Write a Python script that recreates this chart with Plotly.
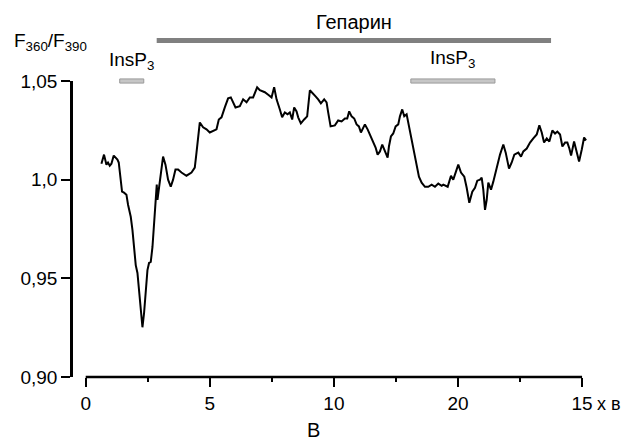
import plotly.graph_objects as go

# Fluorescence ratio trace, F360/F390, versus time (min)
time_min = [
    0.633, 0.738, 0.835, 0.899, 0.968, 1.036, 1.129, 1.198, 1.278, 1.331,
    1.411, 1.464, 1.544, 1.641, 1.706, 1.815, 1.883, 1.948, 2.016, 2.085,
    2.149, 2.218, 2.286, 2.351, 2.419, 2.488, 2.552, 2.621, 2.690, 2.754,
    2.823, 2.863, 2.891, 2.944, 3.012, 3.117, 3.214, 3.319, 3.427, 3.520,
    3.617, 3.722, 3.859, 4.060, 4.262, 4.395, 4.464, 4.504, 4.597, 4.730,
    4.867, 5.000, 5.133, 5.270, 5.363, 5.472, 5.605, 5.738, 5.847, 5.940,
    6.036, 6.210, 6.343, 6.480, 6.613, 6.746, 6.815, 6.907, 7.016, 7.218,
    7.379, 7.488, 7.593, 7.690, 7.823, 7.915, 8.024, 8.133, 8.226, 8.319,
    8.399, 8.496, 8.561, 8.669, 8.802, 8.923, 9.032, 9.125, 9.262, 9.367,
    9.476, 9.609, 9.706, 9.770, 9.867, 10.040, 10.173, 10.310, 10.444, 10.537,
    10.617, 10.714, 10.819, 10.915, 11.008, 11.089, 11.181, 11.250, 11.359, 11.452,
    11.585, 11.681, 11.762, 11.855, 11.948, 12.056, 12.165, 12.218, 12.298, 12.391,
    12.488, 12.593, 12.661, 12.754, 12.835, 12.931, 13.024, 13.133, 13.238, 13.335,
    13.427, 13.536, 13.669, 13.802, 13.940, 14.073, 14.206, 14.343, 14.407, 14.585,
    14.718, 14.810, 14.907, 15.012, 15.121, 15.254, 15.351, 15.456, 15.577, 15.685,
    15.778, 15.887, 15.955, 16.020, 16.089, 16.157, 16.222, 16.331, 16.423, 16.560,
    16.694, 16.827, 16.923, 17.056, 17.165, 17.270, 17.431, 17.540, 17.633, 17.770,
    17.903, 18.036, 18.173, 18.278, 18.375, 18.468, 18.577, 18.681, 18.802, 18.911,
    19.004, 19.113, 19.206, 19.315, 19.407, 19.488, 19.557, 19.678, 19.786, 19.879,
    19.988, 20.081, 20.161,
]
ratio = [
    1.0081, 1.0127, 1.0076, 1.0087, 1.0071, 1.0081, 1.0122, 1.0112, 1.0102, 1.0087,
    0.9985, 0.9939, 0.9934, 0.9924, 0.9873, 0.9812, 0.9746, 0.9644, 0.9567, 0.9527,
    0.9440, 0.9323, 0.9252, 0.9323, 0.9455, 0.9542, 0.9578, 0.9583, 0.9659, 0.9781,
    0.9924, 0.9975, 0.9898, 0.9949, 1.0015, 1.0117, 1.0076, 1.0000, 0.9964, 1.0000,
    1.0051, 1.0051, 1.0036, 1.0020, 1.0036, 1.0061, 1.0137, 1.0178, 1.0290, 1.0265,
    1.0255, 1.0239, 1.0249, 1.0255, 1.0305, 1.0316, 1.0366, 1.0412, 1.0417, 1.0387,
    1.0366, 1.0372, 1.0407, 1.0392, 1.0417, 1.0417, 1.0443, 1.0468, 1.0453, 1.0443,
    1.0428, 1.0417, 1.0468, 1.0407, 1.0356, 1.0316, 1.0341, 1.0331, 1.0341, 1.0305,
    1.0366, 1.0346, 1.0316, 1.0285, 1.0305, 1.0321, 1.0453, 1.0438, 1.0422, 1.0407,
    1.0387, 1.0407, 1.0392, 1.0341, 1.0270, 1.0275, 1.0300, 1.0295, 1.0310, 1.0310,
    1.0346, 1.0321, 1.0310, 1.0280, 1.0270, 1.0239, 1.0265, 1.0280, 1.0255, 1.0229,
    1.0193, 1.0163, 1.0127, 1.0143, 1.0178, 1.0143, 1.0112, 1.0168, 1.0219, 1.0234,
    1.0270, 1.0280, 1.0321, 1.0356, 1.0321, 1.0331, 1.0270, 1.0193, 1.0137, 1.0066,
    1.0015, 0.9985, 0.9964, 0.9964, 0.9975, 0.9964, 0.9980, 0.9969, 0.9975, 0.9964,
    1.0020, 1.0000, 1.0041, 1.0076, 1.0036, 1.0015, 0.9959, 0.9883, 0.9939, 0.9959,
    0.9995, 1.0000, 1.0010, 0.9949, 0.9847, 0.9898, 0.9985, 0.9949, 0.9990, 1.0066,
    1.0127, 1.0178, 1.0137, 1.0056, 1.0087, 1.0127, 1.0137, 1.0117, 1.0143, 1.0158,
    1.0188, 1.0209, 1.0229, 1.0275, 1.0239, 1.0188, 1.0209, 1.0193, 1.0249, 1.0234,
    1.0244, 1.0229, 1.0168, 1.0188, 1.0188, 1.0158, 1.0122, 1.0193, 1.0137, 1.0092,
    1.0153, 1.0214, 1.0199,
]

# Application periods (min)
heparin_period = [2.86, 18.75]
insp3_periods = [[1.37, 2.34], [13.10, 16.49]]

# Axis ticks
x_tick_vals = [0, 5, 10, 15, 20]
x_tick_text = ["0", "5", "10", "20", "15"]
x_minor_vals = [2.5, 7.5, 12.5, 17.5]
y_tick_vals = [0.90, 0.95, 1.00, 1.05]
y_tick_text = ["0,90", "0,95", "1,0", "1,05"]

FONT = "Liberation Sans, Arial, sans-serif"

fig = go.Figure()
fig.add_trace(go.Scatter(
    x=time_min, y=ratio, mode="lines",
    line=dict(color="black", width=2),
    hoverinfo="skip", showlegend=False,
))

shapes = []
# x-axis baseline from 0 to 20 min
shapes.append(dict(type="line", xref="x", yref="paper",
                   x0=x_tick_vals[0], x1=x_tick_vals[-1], y0=0, y1=0,
                   line=dict(color="black", width=2.5)))
# Heparin bar
shapes.append(dict(type="rect", xref="x", yref="paper",
                   x0=heparin_period[0], x1=heparin_period[1], y0=1.128, y1=1.145,
                   fillcolor="#808080", line=dict(width=0)))
# InsP3 bars
for a, b in insp3_periods:
    shapes.append(dict(type="rect", xref="x", yref="paper",
                       x0=a, x1=b, y0=0.993, y1=1.007,
                       fillcolor="#c6c6c6", line=dict(color="#9a9a9a", width=1)))

annotations = [
    dict(text="F<sub>360</sub>/F<sub>390</sub>", xref="paper", yref="paper",
         x=-0.118, y=1.132, xanchor="left", yanchor="middle", showarrow=False,
         font=dict(size=19, color="black", family=FONT)),
    dict(text="Гепарин", xref="x", yref="paper",
         x=sum(heparin_period) / 2, y=1.199, xanchor="center", yanchor="middle",
         showarrow=False, font=dict(size=20, color="black", family=FONT)),
    dict(text="х в", xref="paper", yref="paper",
         x=1.005, y=-0.09, xanchor="left", yanchor="middle", showarrow=False,
         font=dict(size=18, color="black", family=FONT)),
    dict(text="В", xref="paper", yref="paper",
         x=(313 - 73) / 519, y=-0.18, xanchor="center", yanchor="middle",
         showarrow=False, font=dict(size=20, color="black", family=FONT)),
]
for (a, b), ylab in zip(insp3_periods, [1.066, 1.076]):
    annotations.append(dict(text="InsP<sub>3</sub>", xref="x", yref="paper",
                            x=(a + b) / 2, y=ylab, xanchor="center", yanchor="middle",
                            showarrow=False,
                            font=dict(size=19, color="black", family=FONT)))

fig.update_layout(
    width=627, height=443,
    margin=dict(l=73, r=35, t=81, b=66),
    paper_bgcolor="white", plot_bgcolor="white",
    font=dict(family=FONT, size=19, color="black"),
    shapes=shapes, annotations=annotations,
    xaxis=dict(range=[-0.512, 20.40], showline=False, showgrid=False, zeroline=False,
               tickmode="array", tickvals=x_tick_vals, ticktext=x_tick_text,
               ticks="outside", ticklen=9, tickwidth=2, tickcolor="black",
               minor=dict(tickmode="array", tickvals=x_minor_vals, ticks="outside",
                          ticklen=4, tickwidth=2, tickcolor="black", showgrid=False),
               tickfont=dict(size=19, family=FONT, color="black")),
    yaxis=dict(range=[0.90, 1.05], showline=True, linecolor="black", linewidth=2.5,
               showgrid=False, zeroline=False,
               tickmode="array", tickvals=y_tick_vals, ticktext=y_tick_text,
               ticks="outside", ticklen=9, tickwidth=2, tickcolor="black",
               tickfont=dict(size=19, family=FONT, color="black")),
)

fig.write_html("out.html")
